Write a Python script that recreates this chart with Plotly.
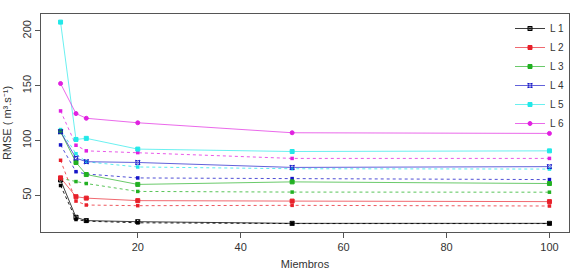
import plotly.graph_objects as go

miembros = [5, 8, 10, 20, 50, 100]

names = ["L 1", "L 2", "L 3", "L 4", "L 5", "L 6"]
# solid lines
l1_solid = [64, 30, 27, 26, 24.5, 24.5]
l2_solid = [66, 48.8, 47.5, 45.2, 44.8, 44.3]
l3_solid = [108, 80, 69, 60, 62.3, 60.8]
l4_solid = [108, 84, 80.7, 80, 75.5, 76.2]
l5_solid = [208, 101, 102, 92.2, 90, 90.6]
l6_solid = [152, 124.6, 120.3, 116.2, 107.1, 106.5]
# dotted lines
l1_dot = [59, 28, 26.5, 25, 24.3, 24.3]
l2_dot = [82, 44.8, 41.2, 40.6, 40.9, 40.3]
l3_dot = [65.5, 62.6, 60.8, 53.6, 53, 52.9]
l4_dot = [96, 71.6, 69.5, 65.9, 65.3, 64.4]
l5_dot = [110, 88, 80.6, 75.9, 74.3, 74]
l6_dot = [127, 95.7, 90.6, 89, 83.7, 83.7]

solid = [l1_solid, l2_solid, l3_solid, l4_solid, l5_solid, l6_solid]
dotted = [l1_dot, l2_dot, l3_dot, l4_dot, l5_dot, l6_dot]
colors = ["#000000", "#E8202A", "#22B022", "#1515C8", "#22E8E8", "#E020E0"]
line_colors = ["rgba(0,0,0,0.85)", "rgba(232,32,42,0.75)", "rgba(34,176,34,0.75)",
               "rgba(21,21,200,0.75)", "rgba(34,232,232,0.75)", "rgba(224,32,224,0.75)"]
symbols = ["square-x-open", "square", "square", "star-square-open", "square", "circle"]

fig = go.Figure()
for i in range(6):
    fig.add_trace(go.Scatter(
        x=miembros, y=dotted[i], mode="lines+markers", name=names[i],
        showlegend=False, line=dict(color=line_colors[i], width=1, dash="dot"),
        marker=dict(symbol="square", size=3.5, color=colors[i])))
for i in range(6):
    fig.add_trace(go.Scatter(
        x=miembros, y=solid[i], mode="lines+markers", name=names[i],
        line=dict(color=line_colors[i], width=0.9),
        marker=dict(symbol=symbols[i], size=4, color=colors[i],
                    line=dict(color=colors[i], width=1))))

axis_common = dict(showline=True, linecolor="#555555", linewidth=1, mirror=True,
                   ticks="outside", ticklen=5, tickcolor="#555555",
                   showgrid=False, zeroline=False, automargin=False,
                   tickfont=dict(family="Liberation Sans, Arial", size=11, color="#333333"))

fig.update_layout(
    width=583, height=274,
    margin=dict(l=41, r=14, t=14, b=42),
    paper_bgcolor="white", plot_bgcolor="white",
    font=dict(family="Liberation Sans, Arial", size=11, color="#333333"),
    xaxis=dict(range=[1.2, 103.8], tickvals=[20, 40, 60, 80, 100],
               title=dict(text="Miembros", standoff=8, font=dict(size=11)),
               **axis_common),
    yaxis=dict(range=[16.6, 215.4], tickvals=[50, 100, 150, 200], tickangle=-90,
               title=dict(text="RMSE ( m³.s⁻¹)", standoff=6, font=dict(size=11)),
               **axis_common),
    legend=dict(x=1.0, y=1.0, xanchor="right", yanchor="top",
                bgcolor="rgba(0,0,0,0)", font=dict(size=10),
                itemwidth=30, tracegroupgap=0),
)

fig.write_html("out.html", config={"displayModeBar": False},
               post_script="document.body.style.margin='0';")
